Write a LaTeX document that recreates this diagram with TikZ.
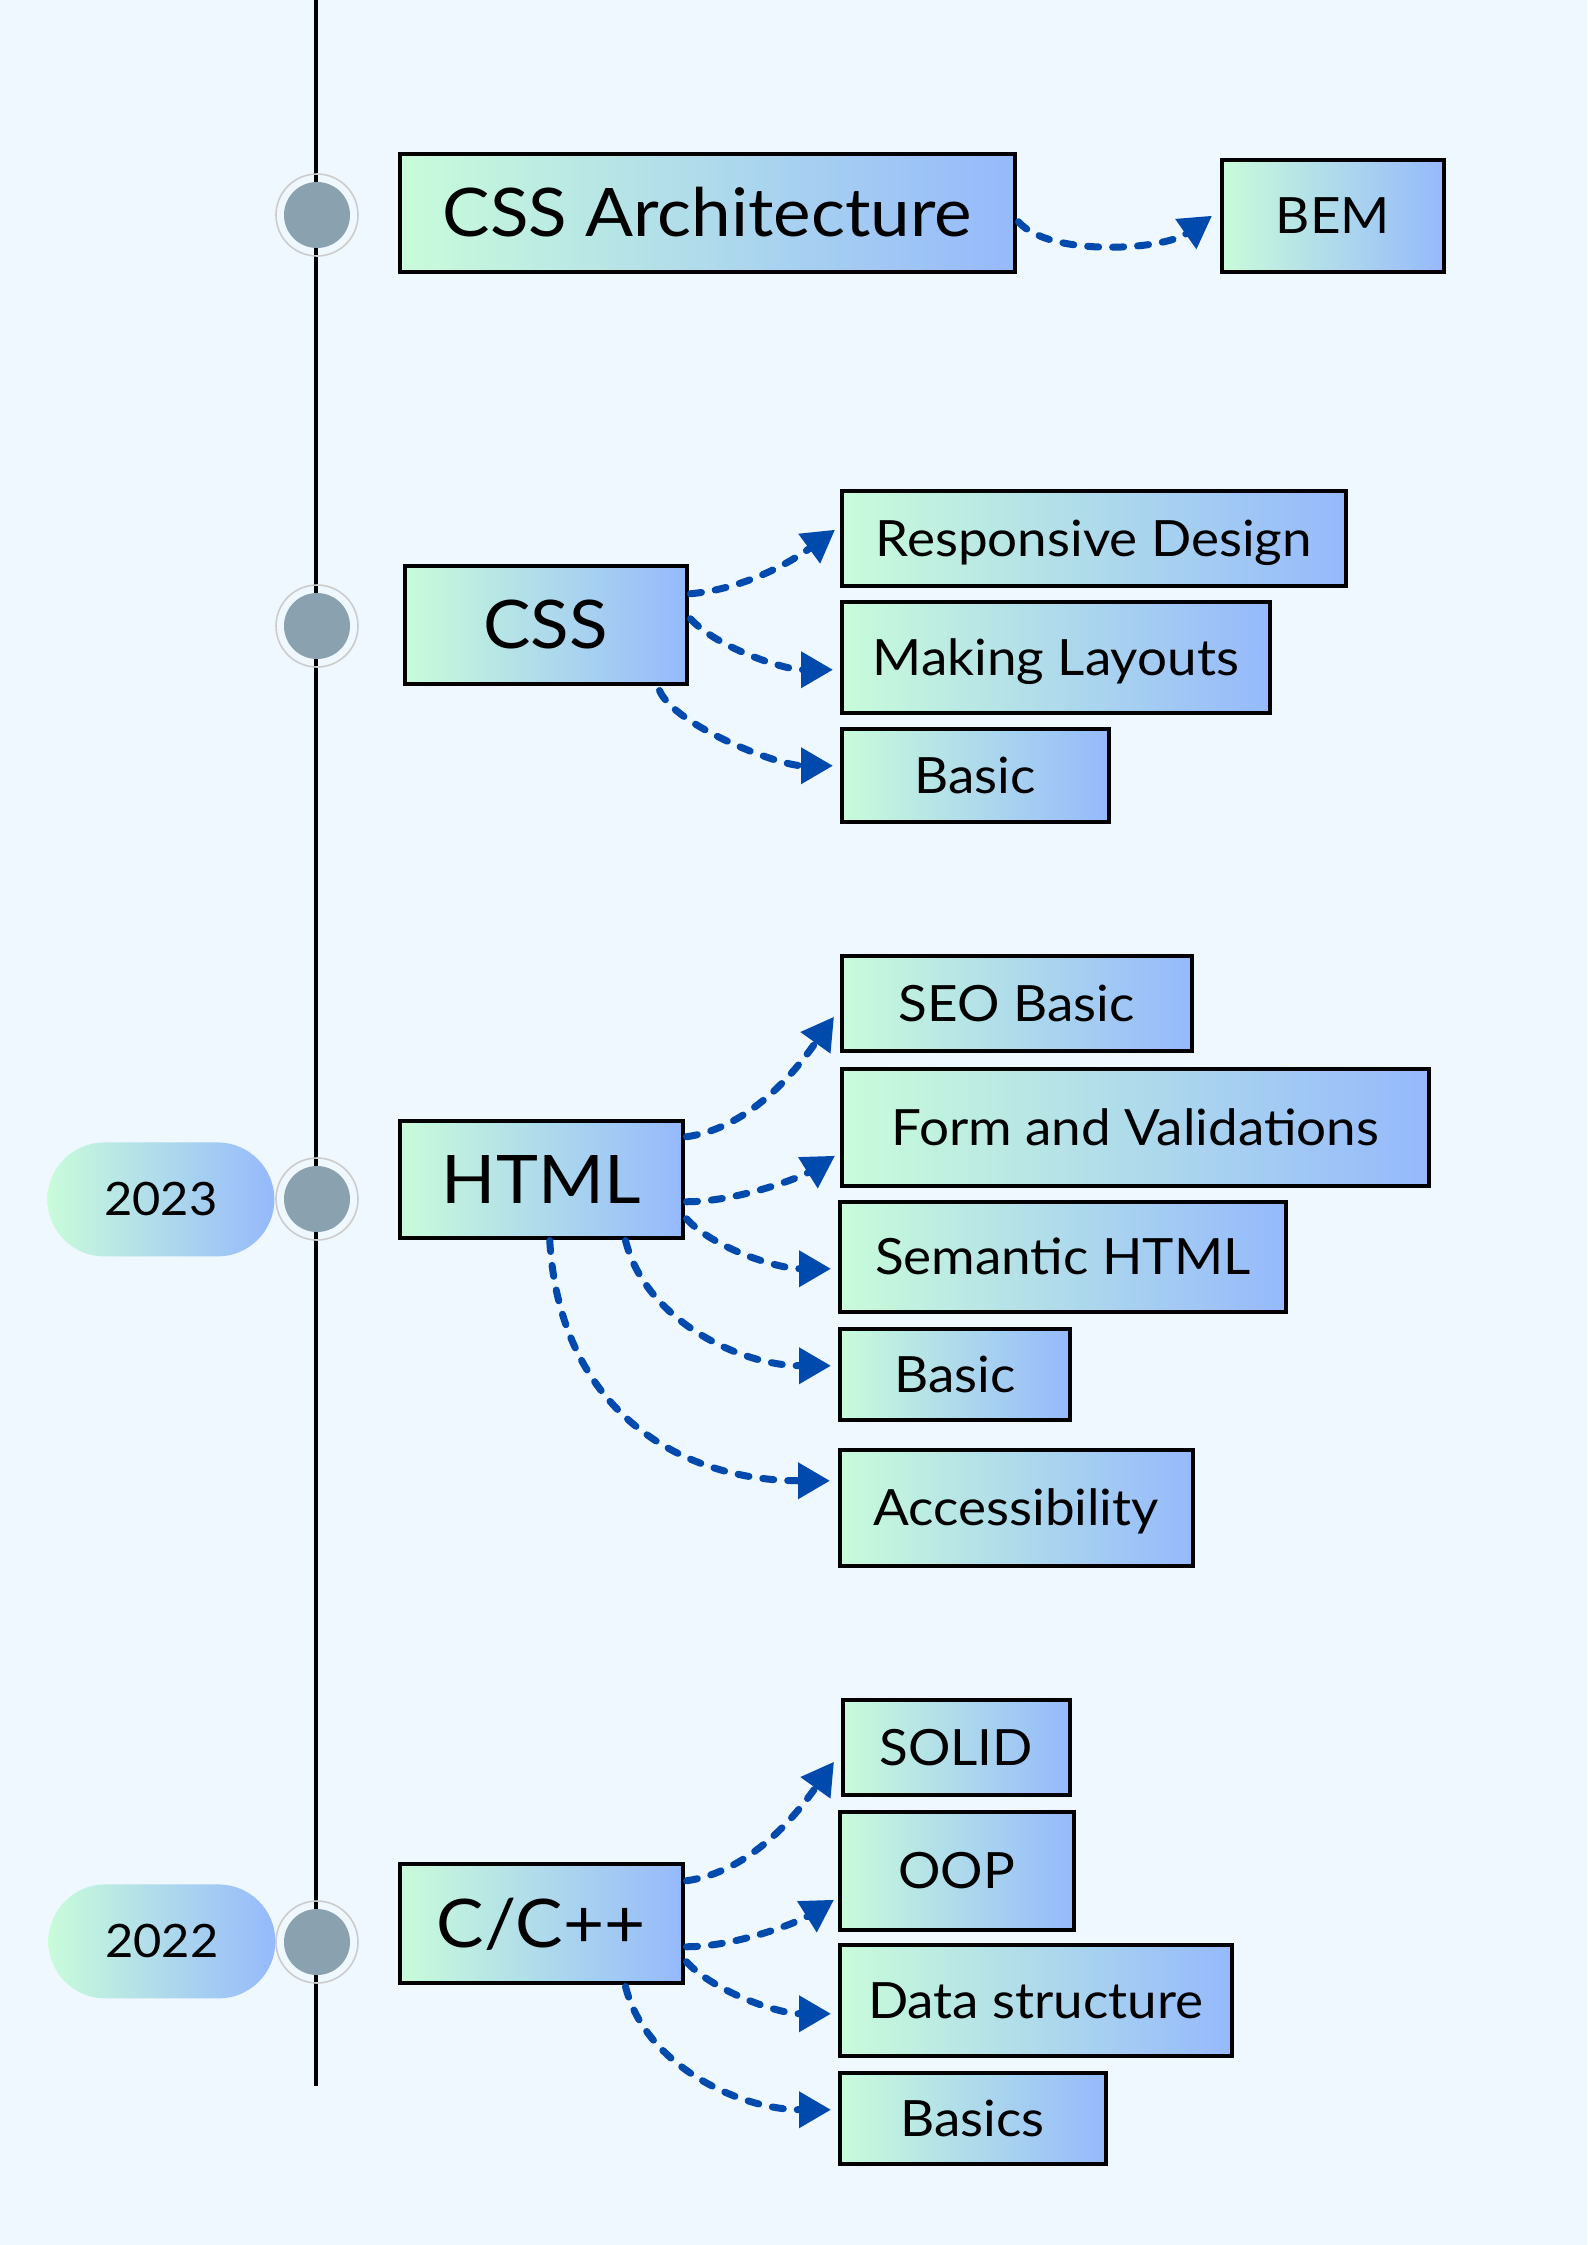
\documentclass[tikz,border=0pt]{standalone}
\usepackage{fontspec}
\setmainfont[FakeStretch=1.06]{Lato}
\usetikzlibrary{arrows.meta,calc}
\definecolor{bgc}{HTML}{EFF7FF}
\definecolor{gl}{HTML}{C8FCDA}
\definecolor{gr}{HTML}{95B9FC}
\definecolor{arr}{HTML}{004AAD}
\definecolor{dotc}{HTML}{8AA1B0}
\definecolor{ringc}{HTML}{CCCCCC}
\begin{document}
\begin{tikzpicture}[x=0.5pt,y=-0.5pt,
 topic/.style={draw=black, line width=1.75pt, left color=gl, right color=gr, inner sep=0pt, anchor=north west, text height=24pt, text depth=0pt, font=\fontsize{33.5pt}{40pt}\selectfont},
 subbox/.style={topic, text height=18pt, font=\fontsize{25pt}{30pt}\selectfont},
 yearbox/.style={left color=gl, right color=gr, rounded corners=28.5pt, inner sep=0pt, anchor=north west, minimum width=113.5pt, minimum height=57pt, text height=16.5pt, text depth=0pt, font=\fontsize{23pt}{28pt}\selectfont},
 tdot/.style={circle, fill=dotc, minimum size=33pt, inner sep=0pt},
 tring/.style={circle, draw=ringc, line width=0.8pt, minimum size=41pt, inner sep=0pt},
 conn/.style={draw=arr, line width=3.5pt, dash pattern=on 5.5pt off 7pt, line cap=round, -{Triangle[length=16pt,width=17.5pt]}},
 axis/.style={draw=black, line width=1.6pt},
]
\fill[bgc] (0,0) rectangle (1587,2245);
\useasboundingbox (0,0) rectangle (1587,2245);

% timeline
\coordinate (ltop) at (316,0);
\coordinate (lbot) at (316,2086);
\draw[axis] (ltop) -- (lbot);

\foreach \n/\y in {1/215,2/626,3/1199,4/1942}{
  \node[tring] (r\n) at (317,\y) {};
  \node[tdot] (d\n) at (317,\y) {};
}

% years
\node[yearbox] (y2023) at (47,1142) {2023};
\node[yearbox] (y2022) at (48,1884) {2022};

% main topics
\node[topic, minimum width=307.5pt, minimum height=59pt] (arch) at (398,152) {CSS Architecture};
\node[topic, minimum width=141pt, minimum height=59pt] (css) at (403,564) {CSS};
\node[topic, minimum width=141.5pt, minimum height=58.5pt] (html) at (398,1119) {HTML};
\node[topic, minimum width=141.5pt, minimum height=59.5pt] (cpp) at (398,1862) {C/C++};

% sub topics
\node[subbox, minimum width=111pt, minimum height=56pt] (bem) at (1220,158) {BEM};
\node[subbox, minimum width=252pt, minimum height=47.5pt] (resp) at (840,489) {Responsive Design};
\node[subbox, minimum width=214pt, minimum height=55.5pt] (making) at (840,600) {Making Layouts};
\node[subbox, minimum width=133.5pt, minimum height=46.5pt] (basicc) at (840,727) {Basic};
\node[subbox, minimum width=175pt, minimum height=47.5pt] (seo) at (840,954) {SEO Basic};
\node[subbox, minimum width=293.5pt, minimum height=58.5pt] (form) at (840,1067) {Form and Validations};
\node[subbox, minimum width=223pt, minimum height=55pt] (sem) at (838,1200) {Semantic HTML};
\node[subbox, minimum width=115pt, minimum height=45.5pt] (basich) at (838,1327) {Basic};
\node[subbox, minimum width=176.5pt, minimum height=58pt] (acc) at (838,1448) {Accessibility};
\node[subbox, minimum width=113.5pt, minimum height=47.5pt] (solid) at (841,1698) {SOLID};
\node[subbox, minimum width=117pt, minimum height=59pt] (oop) at (838,1810) {OOP};
\node[subbox, minimum width=196pt, minimum height=55.5pt] (data) at (838,1943) {Data structure};
\node[subbox, minimum width=133pt, minimum height=45.5pt] (basics) at (838,2071) {Basics};

% connectors
\draw[conn] ($(arch.east)+(2,9)$) .. controls +(30,35) and +(-50,35) .. ($(bem.west)+(-8,0)$);

\draw[conn] ($(css.east)+(2,-31)$) .. controls +(65,-6) and +(-30,22) .. ($(resp.west)+(-5,-8.5)$);
\draw[conn] ($(css.east)+(2,-6)$) .. controls +(25,28) and +(-50,0) .. ($(making.west)+(-7,12.5)$);
\draw[conn] ($(css.south east)+(-29,5)$) .. controls +(15,35) and +(-55,0) .. ($(basicc.west)+(-7,-9.5)$);

\draw[conn] ($(html.east)+(2,-42.5)$) .. controls +(70,-10) and +(-30,42) .. ($(seo.west)+(-6,13.5)$);
\draw[conn] ($(html.east)+(2,22.5)$) .. controls +(50,0) and +(-35,22) .. ($(form.west)+(-5,28.5)$);
\draw[conn] ($(html.east)+(2,39.5)$) .. controls +(25,28) and +(-55,0) .. ($(sem.west)+(-7,12)$);
\draw[conn] ($(html.south east)+(-59,1)$) .. controls +(20,80) and +(-90,0) .. ($(basich.west)+(-7,-8.5)$);
\draw[conn] ($(html.south)+(8.5,1)$) .. controls +(10,170) and +(-150,0) .. ($(acc.west)+(-8,-27)$);

\draw[conn] ($(cpp.east)+(2,-42.5)$) .. controls +(70,-10) and +(-30,42) .. ($(solid.west)+(-7,14.5)$);
\draw[conn] ($(cpp.east)+(2,23.5)$) .. controls +(50,0) and +(-35,22) .. ($(oop.west)+(-4,29)$);
\draw[conn] ($(cpp.east)+(2,38.5)$) .. controls +(25,28) and +(-55,0) .. ($(data.west)+(-7,13.5)$);
\draw[conn] ($(cpp.south east)+(-59,2)$) .. controls +(20,80) and +(-90,0) .. ($(basics.west)+(-7,-8.5)$);
\end{tikzpicture}
\end{document}
